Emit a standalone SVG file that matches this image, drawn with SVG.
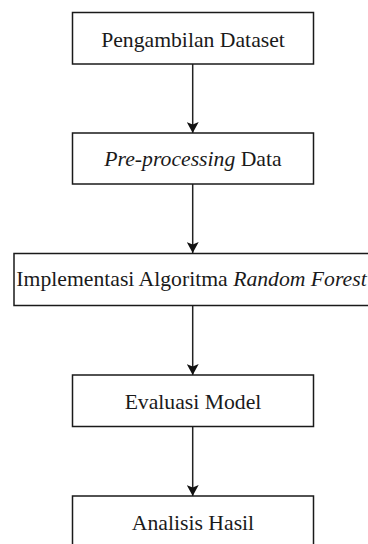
<svg xmlns="http://www.w3.org/2000/svg" width="368" height="544" viewBox="0 0 368 544">
<style>
.box{fill:#fff;stroke:#1a1a1a;stroke-width:1.5}
.t{font-family:'Liberation Serif','DejaVu Serif','Times New Roman',serif;font-size:21.7px;fill:#1a1a1a;text-anchor:middle}
.i{font-style:italic}
.c{stroke:#222;stroke-width:1.5;fill:none}
</style>
<defs>
<marker id="ah" viewBox="0 0 11 12" refX="11" refY="6" markerWidth="11" markerHeight="12" markerUnits="userSpaceOnUse" orient="auto">
<path d="M0,0 L2.5,6 L0,12 L11,6 Z" fill="#111"/>
</marker>
</defs>
<rect width="368" height="544" fill="#fff"/>
<g id="connectors">
<line class="c" x1="192.7" y1="64" x2="192.7" y2="133" marker-end="url(#ah)"/>
<line class="c" x1="192.7" y1="184" x2="192.7" y2="253" marker-end="url(#ah)"/>
<line class="c" x1="192.7" y1="306" x2="192.7" y2="375" marker-end="url(#ah)"/>
<line class="c" x1="192.7" y1="427" x2="192.7" y2="496" marker-end="url(#ah)"/>
</g>
<g id="n1"><rect class="box" x="72.5" y="12.5" width="241" height="51.5"/><text class="t" x="193" y="46.5">Pengambilan Dataset</text></g>
<g id="n2"><rect class="box" x="72.5" y="133" width="241" height="51"/><text class="t" x="193" y="166"><tspan class="i">Pre-processing</tspan> Data</text></g>
<g id="n3"><rect class="box" x="14" y="253.5" width="370" height="52"/><text class="t" x="191.5" y="286">Implementasi Algoritma <tspan class="i">Random Forest</tspan></text></g>
<g id="n4"><rect class="box" x="72.5" y="375" width="241" height="51.5"/><text class="t" x="193" y="408.5">Evaluasi Model</text></g>
<g id="n5"><rect class="box" x="72.5" y="496" width="241" height="60"/><text class="t" x="193" y="529.5">Analisis Hasil</text></g>
</svg>
